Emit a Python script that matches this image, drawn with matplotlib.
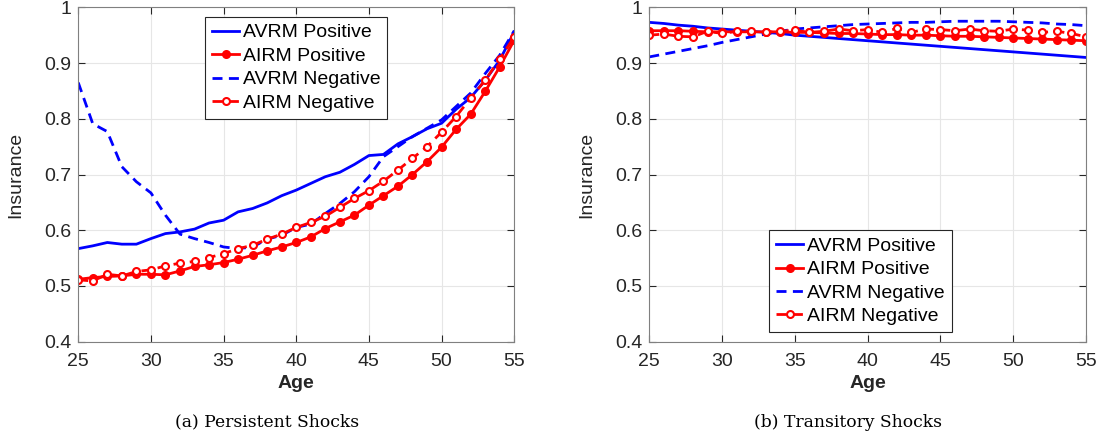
import numpy as np
import matplotlib
matplotlib.use('Agg')
from matplotlib import pyplot as plt

plt.rcParams['font.family'] = ['Liberation Sans', 'DejaVu Sans']

age = np.arange(25, 56)

# (a) persistent shocks
avrm_pos_a = [0.567, 0.572, 0.578, 0.575, 0.575, 0.585, 0.594, 0.597, 0.602, 0.613,
              0.618, 0.633, 0.639, 0.649, 0.662, 0.672, 0.684, 0.696, 0.704, 0.718,
              0.734, 0.736, 0.755, 0.768, 0.782, 0.792, 0.817, 0.838, 0.869, 0.905, 0.956]
airm_pos_a = [0.512, 0.515, 0.517, 0.518, 0.521, 0.521, 0.520, 0.527, 0.535, 0.538,
              0.542, 0.548, 0.555, 0.563, 0.570, 0.578, 0.588, 0.603, 0.615, 0.627,
              0.645, 0.662, 0.679, 0.700, 0.723, 0.749, 0.781, 0.808, 0.849, 0.893, 0.941]
avrm_neg_a = [0.865, 0.791, 0.777, 0.714, 0.687, 0.667, 0.627, 0.593, 0.585, 0.578,
              0.570, 0.567, 0.570, 0.584, 0.591, 0.605, 0.611, 0.630, 0.648, 0.669,
              0.696, 0.732, 0.750, 0.768, 0.783, 0.798, 0.822, 0.846, 0.881, 0.914, 0.958]
airm_neg_a = [0.511, 0.509, 0.521, 0.518, 0.526, 0.529, 0.536, 0.541, 0.544, 0.551,
              0.558, 0.567, 0.573, 0.584, 0.593, 0.605, 0.614, 0.625, 0.641, 0.657,
              0.671, 0.688, 0.708, 0.729, 0.750, 0.776, 0.804, 0.837, 0.869, 0.907, 0.947]

# (b) transitory shocks
avrm_pos_b = [0.973, 0.971, 0.968, 0.966, 0.963, 0.961, 0.959, 0.957, 0.955, 0.953,
              0.950, 0.948, 0.946, 0.944, 0.942, 0.940, 0.938, 0.936, 0.934, 0.932,
              0.930, 0.928, 0.926, 0.924, 0.922, 0.920, 0.918, 0.916, 0.914, 0.912, 0.910]
airm_pos_b = [0.958, 0.958, 0.958, 0.957, 0.956, 0.956, 0.956, 0.956, 0.956, 0.956,
              0.955, 0.955, 0.954, 0.953, 0.953, 0.952, 0.951, 0.951, 0.950, 0.950,
              0.949, 0.948, 0.948, 0.947, 0.946, 0.945, 0.944, 0.943, 0.942, 0.941, 0.940]
avrm_neg_b = [0.911, 0.916, 0.921, 0.926, 0.931, 0.937, 0.942, 0.947, 0.952, 0.957,
              0.961, 0.963, 0.965, 0.967, 0.969, 0.970, 0.971, 0.972, 0.973, 0.973,
              0.974, 0.975, 0.975, 0.975, 0.975, 0.974, 0.973, 0.972, 0.970, 0.969, 0.967]
airm_neg_b = [0.950, 0.952, 0.948, 0.947, 0.957, 0.953, 0.957, 0.957, 0.955, 0.957,
              0.959, 0.955, 0.957, 0.961, 0.958, 0.960, 0.955, 0.962, 0.955, 0.961,
              0.960, 0.958, 0.961, 0.958, 0.957, 0.961, 0.959, 0.955, 0.957, 0.953, 0.947]

labels = ['AVRM Positive', 'AIRM Positive', 'AVRM Negative', 'AIRM Negative']
captions = ['(a) Persistent Shocks', '(b) Transitory Shocks']
panels = [(avrm_pos_a, airm_pos_a, avrm_neg_a, airm_neg_a),
          (avrm_pos_b, airm_pos_b, avrm_neg_b, airm_neg_b)]

fig = plt.figure(figsize=(10.99, 4.40), dpi=100)
axes = [fig.add_axes([0.0712, 0.2234, 0.3967, 0.76]),
        fig.add_axes([0.5908, 0.2234, 0.3974, 0.76])]

for i, ax in enumerate(axes):
    ap, ip, an, inn = panels[i]
    ax.plot(age, ap, '-', color='#0000ff', lw=2, label=labels[0])
    ax.plot(age, ip, '-o', color='#ff0000', lw=2, ms=5, mfc='#ff0000', mew=1.5, label=labels[1])
    ax.plot(age, an, '--', color='#0000ff', lw=2, dashes=(3.6, 2.3), label=labels[2])
    ax.plot(age, inn, '--o', color='#ff0000', lw=2, ms=5, mfc='white', mew=1.5,
            dashes=(3.6, 2.3), label=labels[3])
    ax.set_xlim(25, 55)
    ax.set_ylim(0.4, 1)
    ax.set_xticks(range(25, 56, 5))
    ax.set_yticks(np.arange(0.4, 1.01, 0.1))
    ax.set_yticklabels(['0.4', '0.5', '0.6', '0.7', '0.8', '0.9', '1'])
    ax.grid(True, color='#e6e6e6', lw=0.8)
    ax.set_axisbelow(True)
    ax.tick_params(axis='x', pad=8)
    ax.tick_params(axis='y', pad=5)
    ax.tick_params(direction='in', top=True, right=True, labelsize=14, colors='#262626',
                   length=5, width=0.8)
    for s in ax.spines.values():
        s.set_color('#808080')
        s.set_linewidth(0.8)
    ax.set_xlabel('Age', fontsize=14, fontweight='bold', color='#262626', labelpad=4)
    ax.set_ylabel('Insurance', fontsize=14, color='#262626', labelpad=14)
    if i == 0:
        leg = ax.legend(loc='upper left', bbox_to_anchor=(0.291, 0.971), fontsize=14,
                        handlelength=1.4, handletextpad=0.2, labelspacing=0.3,
                        borderpad=0.35, borderaxespad=0, fancybox=False, framealpha=1)
    else:
        leg = ax.legend(loc='lower left', bbox_to_anchor=(0.275, 0.029), fontsize=14,
                        handlelength=1.4, handletextpad=0.2, labelspacing=0.3,
                        borderpad=0.35, borderaxespad=0, fancybox=False, framealpha=1)
    leg.get_frame().set_edgecolor('#262626')
    leg.get_frame().set_linewidth(0.8)

fig.text(267 / 1099, 1 - 422 / 440, captions[0], ha='center', va='center',
         fontsize=12.3, family='DejaVu Serif')
fig.text(848 / 1099, 1 - 422 / 440, captions[1], ha='center', va='center',
         fontsize=12.3, family='DejaVu Serif')

fig.savefig('out.png', dpi=100)
